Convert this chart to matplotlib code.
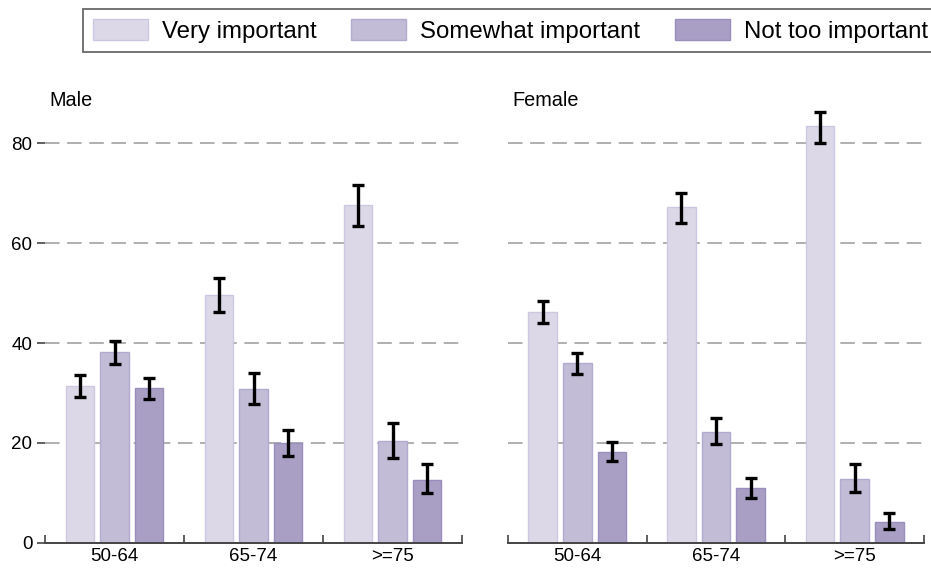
import matplotlib
matplotlib.use("Agg")
import matplotlib.pyplot as plt
import numpy as np

plt.rcParams['font.family'] = ['Liberation Sans', 'DejaVu Sans']

groups = ["50-64", "65-74", ">=75"]
levels = ["Very important", "Somewhat important", "Not too important"]
panels = ["Male", "Female"]

# estimates (percent) with lower / upper CI
male_very = [31.4, 49.6, 67.7]
male_very_lo = [29.1, 46.2, 63.4]
male_very_hi = [33.6, 53.1, 71.6]
male_some = [38.2, 30.8, 20.3]
male_some_lo = [35.8, 27.7, 16.9]
male_some_hi = [40.5, 34.0, 23.9]
male_not = [31.0, 20.0, 12.5]
male_not_lo = [28.7, 17.4, 9.9]
male_not_hi = [33.1, 22.6, 15.7]

female_very = [46.2, 67.2, 83.5]
female_very_lo = [44.0, 64.1, 80.1]
female_very_hi = [48.4, 70.1, 86.3]
female_some = [36.1, 22.2, 12.7]
female_some_lo = [33.9, 19.8, 10.1]
female_some_hi = [38.1, 24.9, 15.7]
female_not = [18.2, 11.0, 4.1]
female_not_lo = [16.3, 8.9, 2.8]
female_not_hi = [20.1, 13.0, 6.0]

colors = ["#dcd8e8", "#c2bcd7", "#a99fc5"]
edges = ["#cdc7df", "#b3abcf", "#998ebd"]

data = {
    "Male": [(male_very, male_very_lo, male_very_hi),
             (male_some, male_some_lo, male_some_hi),
             (male_not, male_not_lo, male_not_hi)],
    "Female": [(female_very, female_very_lo, female_very_hi),
               (female_some, female_some_lo, female_some_hi),
               (female_not, female_not_lo, female_not_hi)],
}

W, H = 931, 568
fig = plt.figure(figsize=(W / 100, H / 100), dpi=100)

y0 = 542.7   # pixel row of y=0
ppu = 4.99   # pixels per unit
ytop = 88
ax_bottom = (H - y0) / H
ax_height = ytop * ppu / H
lefts = [45, 508]
widths = [417, 416]

x = np.arange(len(groups)) + 0.5
offsets = [-0.25, 0, 0.25]
bw = 0.205

handles = []
for k, name in enumerate(panels):
    ax = fig.add_axes([lefts[k] / W, ax_bottom, widths[k] / W, ax_height])
    for i, (vals, lo, hi) in enumerate(data[name]):
        vals = np.array(vals)
        err = [vals - np.array(lo), np.array(hi) - vals]
        b = ax.bar(x + offsets[i], vals, bw, color=colors[i], edgecolor=edges[i],
                   linewidth=1, zorder=2, label=levels[i])
        ax.errorbar(x + offsets[i], vals, yerr=err, fmt="none", ecolor="black",
                    elinewidth=2.4, capsize=4.3, capthick=2.4, zorder=3)
        if k == 0:
            handles.append(b)
    ax.set_xlim(0, 3)
    ax.set_ylim(0, ytop)
    ax.set_yticks([0, 20, 40, 60, 80])
    ax.yaxis.grid(True, color="#9a9a9a", linestyle=(0, (9.5, 5)), linewidth=1.1, zorder=0)
    ax.set_axisbelow(True)
    for s in ["left", "right", "top"]:
        ax.spines[s].set_visible(False)
    ax.spines["bottom"].set_color("#444444")
    ax.spines["bottom"].set_linewidth(1.4)
    ax.spines["bottom"].set_zorder(4)
    ax.set_xticks([0, 1, 2, 3])
    ax.set_xticklabels([])
    ax.set_xticks(x, minor=True)
    ax.set_xticklabels(groups, minor=True, fontsize=13.5)
    ax.tick_params(axis="x", which="major", direction="in", length=6, width=1.2,
                   color="#444444")
    ax.tick_params(axis="x", which="minor", length=0, pad=4)
    if k == 0:
        ax.tick_params(axis="y", direction="out", length=6, width=1.2,
                       color="#444444", labelsize=13.5, pad=3)
    else:
        ax.tick_params(axis="y", length=0, labelleft=False)
    fig.text((lefts[k] + 4) / W, 1 - 100 / H, name, fontsize=14.3, va="center", ha="left")

leg = fig.legend(handles, levels, loc="upper left", bbox_to_anchor=(83 / W, 1 - 9 / H),
                 ncol=3, fontsize=17.3, frameon=True, fancybox=False, borderaxespad=0,
                 handlelength=2.29, handleheight=1.0, handletextpad=0.58,
                 columnspacing=1.45, borderpad=0.4)
leg.get_frame().set_edgecolor("#444444")
leg.get_frame().set_linewidth(1.3)

fig.savefig("out.png", dpi=100)
